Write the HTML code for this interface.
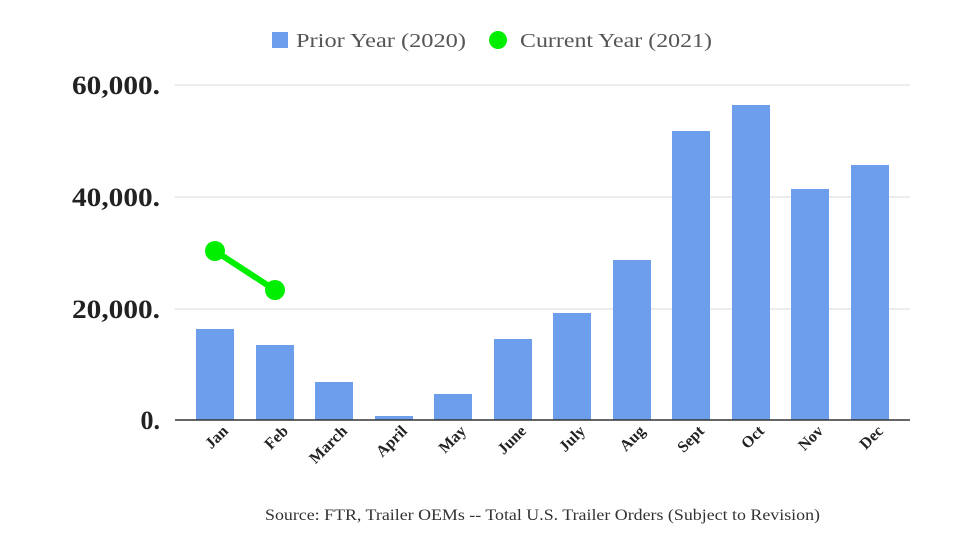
<!DOCTYPE html>
<html><head><meta charset="utf-8"><style>
body{margin:0;background:#fff;}
svg text{font-family:"Liberation Serif",serif;}
</style></head><body>
<svg width="980" height="552" viewBox="0 0 980 552" xmlns="http://www.w3.org/2000/svg">
<rect width="980" height="552" fill="#fff"/>
<rect x="272" y="32" width="16" height="16" fill="#6d9eeb"/>
<text x="296" y="47" font-size="20" fill="#555" textLength="170" lengthAdjust="spacingAndGlyphs">Prior Year (2020)</text>
<circle cx="498" cy="40" r="9" fill="#00ee00"/>
<text x="520" y="47" font-size="20" fill="#555" textLength="192" lengthAdjust="spacingAndGlyphs">Current Year (2021)</text>
<g stroke="#d9d9d9" stroke-width="1">
<line x1="175" y1="85" x2="910" y2="85"/>
<line x1="175" y1="197" x2="910" y2="197"/>
<line x1="175" y1="309" x2="910" y2="309"/>
</g>
<g font-size="26" font-weight="bold" fill="#222">
<text x="72" y="94" textLength="88" lengthAdjust="spacingAndGlyphs">60,000.</text>
<text x="72" y="206" textLength="88" lengthAdjust="spacingAndGlyphs">40,000.</text>
<text x="72" y="318" textLength="88" lengthAdjust="spacingAndGlyphs">20,000.</text>
<text x="160" y="429" text-anchor="end">0.</text>
</g>
<g fill="#6d9eeb">
<rect x="196" y="329" width="38" height="91"/>
<rect x="256" y="345" width="38" height="75"/>
<rect x="315" y="382" width="38" height="38"/>
<rect x="375" y="416" width="38" height="4"/>
<rect x="434" y="394" width="38" height="26"/>
<rect x="494" y="339" width="38" height="81"/>
<rect x="553" y="313" width="38" height="107"/>
<rect x="613" y="260" width="38" height="160"/>
<rect x="672" y="131" width="38" height="289"/>
<rect x="732" y="105" width="38" height="315"/>
<rect x="791" y="189" width="38" height="231"/>
<rect x="851" y="165" width="38" height="255"/>
</g>
<line x1="175" y1="420" x2="910" y2="420" stroke="#333" stroke-width="1.5"/>
<line x1="215" y1="251" x2="275" y2="290" stroke="#00ee00" stroke-width="6"/>
<circle cx="215" cy="251" r="10" fill="#00ee00"/>
<circle cx="275" cy="290" r="10" fill="#00ee00"/>
<g font-size="16" font-weight="bold" fill="#222" text-anchor="end">
<text transform="translate(229,432) rotate(-45)">Jan</text>
<text transform="translate(289,432) rotate(-45)">Feb</text>
<text transform="translate(348,432) rotate(-45)">March</text>
<text transform="translate(408,432) rotate(-45)">April</text>
<text transform="translate(467,432) rotate(-45)">May</text>
<text transform="translate(527,432) rotate(-45)">June</text>
<text transform="translate(586,432) rotate(-45)">July</text>
<text transform="translate(646,432) rotate(-45)">Aug</text>
<text transform="translate(705,432) rotate(-45)">Sept</text>
<text transform="translate(765,432) rotate(-45)">Oct</text>
<text transform="translate(824,432) rotate(-45)">Nov</text>
<text transform="translate(884,432) rotate(-45)">Dec</text>
</g>
<text x="265" y="520" font-size="16" fill="#333" textLength="555" lengthAdjust="spacingAndGlyphs">Source: FTR, Trailer OEMs -- Total U.S. Trailer Orders (Subject to Revision)</text>
</svg>
</body></html>
